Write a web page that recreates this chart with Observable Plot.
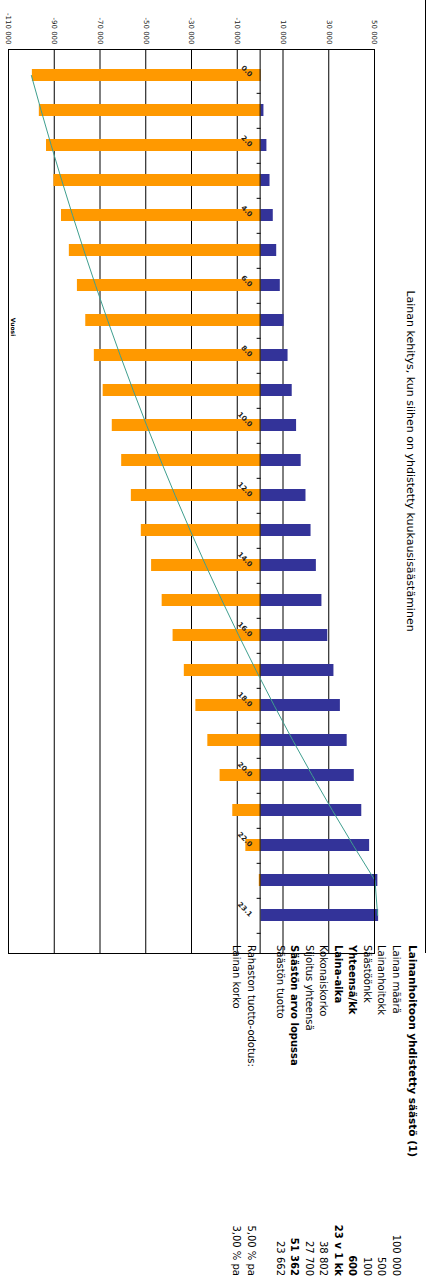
<!DOCTYPE html>
<html><head><meta charset="utf-8">
<script src="https://cdn.jsdelivr.net/npm/d3@7"></script>
<script src="https://cdn.jsdelivr.net/npm/@observablehq/plot@0.6"></script>
<style>
html,body{margin:0;padding:0;background:#fff;overflow:hidden;width:429px;height:1282px;}
#rot{position:absolute;left:0;top:0;width:1282px;height:429px;transform-origin:0 0;transform:translate(429px,0) rotate(90deg);font-family:"DejaVu Sans",sans-serif;color:#000;}
#chart{position:absolute;left:0;top:0;}
.t{position:absolute;white-space:nowrap;line-height:12px;}
</style></head><body>
<div id="rot"><div id="chart"></div></div>
<script>
// ---- data ----
const categories = ["0.0","1.0","2.0","3.0","4.0","5.0","6.0","7.0","8.0","9.0","10.0","11.0","12.0","13.0","14.0","15.0","16.0","17.0","18.0","19.0","20.0","21.0","22.0","23.0","23.1"];
const tickLabels = ["0.0","2.0","4.0","6.0","8.0","10.0","12.0","14.0","16.0","18.0","20.0","22.0","23.1"];
const loan = [-100000,-96960,-93820,-90600,-87270,-83840,-80310,-76660,-72910,-69050,-65070,-60960,-56730,-52370,-47880,-43260,-38490,-33580,-28520,-23300,-17930,-12390,-6680,-800,0];
const savings = [0,1230,2530,3890,5310,6810,8380,10040,11770,13590,15500,17510,19610,21820,24150,26580,29140,31830,34650,37620,40730,44000,47430,51030,51362];
const net = [-100000,-95730,-91300,-86710,-81960,-77030,-71920,-66630,-61140,-55460,-49570,-43460,-37120,-30550,-23740,-16670,-9350,-1750,6140,14320,22810,31610,40750,50230,51362];
const yTicks = [-110000,-90000,-70000,-50000,-30000,-10000,10000,30000,50000];
const chartTitle = "Lainan kehitys, kun siihen on yhdistetty kuukausisäästäminen";
const xAxisTitle = "Vuosi";
const tableTitle = "Lainanhoitoon yhdistetty säästö (1)";
const tableLabels = ["Lainan määrä","Lainanhoitokk","Säästöönkk","Yhteensä/kk","Laina-aika","Kokonaiskorko","Sijoitus yhteensä","Säästön arvo lopussa","Säästön tuotto","","Rahaston tuotto-odotus:","Lainan korko"];
const tableValues = ["100 000","500","100","600","23 v 1 kk","38 802","27 700","51 362","23 662","","5,00 % pa","3,00 % pa"];
const tableBold = [false,false,false,true,true,false,false,true,false,false,false,false];

// ---- chart ----
const rows = categories.map((c,i)=>({cat:c, loan:loan[i], sav:savings[i], net:net[i]}));
const fmt = d => (d<0?"-":"") + d3.format(",")(Math.abs(d)).replace(/,/g," ");
const x0 = 49, x1 = 941;
const step = (x1-x0)/categories.length;
const chart = Plot.plot({
  width:1282, height:429, marginLeft:49, marginRight:329, marginTop:54, marginBottom:9,
  style:{fontFamily:"DejaVu Sans, sans-serif", fontSize:"7px", background:"transparent", color:"#222", overflow:"visible"},
  x:{type:"band", domain:categories, range:[x0,x1], paddingInner:0.645, paddingOuter:0.3225, axis:null},
  y:{domain:[-110000,50000], ticks:yTicks, tickFormat:fmt, tickSize:0, tickPadding:5, label:null},
  marks:[
    Plot.ruleY(yTicks, {stroke:"#000", strokeWidth:1}),
    Plot.barY(rows, {x:"cat", y1:0, y2:"loan", fill:"#FF9900"}),
    Plot.barY(rows, {x:"cat", y1:0, y2:"sav", fill:"#333399"}),
    Plot.ruleY([0], {stroke:"#000", strokeWidth:1}),
    Plot.ruleX(rows, {x:"cat", y1:0, y2:0, insetBottom:-4, dx:step/2, stroke:"#000"}),
    Plot.line(rows, {x:"cat", y:"net", stroke:"#3f9f8f", strokeWidth:1}),
    Plot.text(rows.filter(d=>tickLabels.includes(d.cat)), {x:"cat", y:0, text:"cat", rotate:-45, textAnchor:"end", dy:9, fontSize:7, fontWeight:"bold", fill:"#222"}),
    Plot.frame({stroke:"#000"})
  ]
});
document.getElementById("chart").appendChild(chart);

const rot = document.getElementById("rot");
function addText(txt, left, centerY, size, bold, align){
  const d = document.createElement("div");
  d.className = "t";
  d.textContent = txt;
  d.style.fontSize = size+"px";
  d.style.fontWeight = bold ? "bold" : "normal";
  d.style.top = (centerY-6)+"px";
  if (align === "center") { d.style.left = left+"px"; d.style.transform = "translateX(-50%)"; }
  else if (align === "right") { d.style.right = (1282-left)+"px"; }
  else d.style.left = left+"px";
  rot.appendChild(d);
}
addText(chartTitle, 461, 19, 11, false, "center");
addText(xAxisTitle, 327, 416, 6, true, "center");
addText(tableTitle, 945, 16, 10.5, true, "left");
const rowY = [33,47.5,62,76.5,91,105.5,120,134.5,149,163.5,178,192.5];
tableLabels.forEach((l,i)=>{
  if(!l) return;
  addText(l, 945, rowY[i], 10, tableBold[i], "left");
  addText(tableValues[i], 1276, rowY[i], 10, tableBold[i], "right");
});
// outer chart border line
const b = document.createElement("div");
b.style.cssText = "position:absolute;left:0;top:3px;width:953px;height:0;border-top:1.5px solid #000;";
rot.appendChild(b);
</script></body></html>
